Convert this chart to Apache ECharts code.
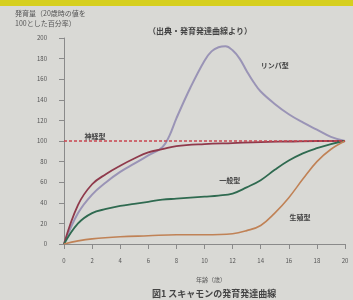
<!DOCTYPE html>
<html><head><meta charset="utf-8">
<script src="https://cdn.jsdelivr.net/npm/echarts@6/dist/echarts.min.js"></script>
<style>html,body{margin:0;padding:0;background:#d9d9d5;}#c{width:353px;height:300px;}</style>
</head><body><div id="c"></div>
<script>
const xTicks = [0,2,4,6,8,10,12,14,16,18,20];
const yTicks = [0,20,40,60,80,100,120,140,160,180,200];
const lymphAges = [0,1,2,3,4,5,6,7,7.5,8,9,10,10.5,11,11.5,12,12.5,13,13.5,14,15,16,17,18,19,20];
const lymphVals = [0,30,48,60,70,78,86,94,105,122,152,178,187,191,192,188,180,168,157,148,136,126,118,111,104,100];
const neuralAges = [0,1,2,3,4,5,6,7,8,10,12,14,16,18,20];
const neuralVals = [0,38,58,68,76,83,89,92,95,97,98,99,99.5,100,100];
const generalAges = [0,1,2,3,4,5,6,7,8,9,10,11,12,13,14,15,16,17,18,19,20];
const generalVals = [0,20,30,34,37,39,41,43,44,45,46,47,49,55,62,72,81,88,93,97,100];
const reproAges = [0,1,2,4,6,8,10,12,13,14,15,16,17,18,19,20];
const reproVals = [0,3,5,7,8,9,9,10,13,18,30,45,63,80,92,100];
const names = ['リンパ型','神経型','一般型','生殖型'];
const labelPos = [[15,173],[2.2,105],[11.8,62],[16.8,26]];
const refLine = 100;

const pair = (a,v)=>a.map((x,i)=>[x,v[i]]);
const font = '"Noto Sans CJK JP", sans-serif';
function ser(name, data, color, w, lp){
  return {type:'line', name, data, smooth:0.4, symbol:'none',
    lineStyle:{color, width:w}, z:3,
    markPoint:{symbol:'circle', symbolSize:0, data:[{coord:lp}],
      label:{show:true, formatter:name, color:'#444', fontSize:7, fontFamily:font, fontWeight:'bold'}}};
}
const chart = echarts.init(document.getElementById('c'));
chart.setOption({
  animation:false,
  backgroundColor:'#d9d9d5',
  grid:{left:64, right:8, top:38, bottom:56},
  graphic:[
    {type:'rect', shape:{x:0,y:0,width:353,height:6}, style:{fill:'#d6cf1e'}},
    {type:'text', left:15, top:10, style:{text:'発育量（20歳時の値を', fontSize:7, fill:'#555', fontFamily:font}},
    {type:'text', left:15, top:20, style:{text:'100とした百分率）', fontSize:7, fill:'#555', fontFamily:font}},
    {type:'text', left:148, top:27, style:{text:'（出典・発育発達曲線より）', fontSize:8, fill:'#444', fontFamily:font, fontWeight:'bold'}},
    {type:'text', left:196, top:277, style:{text:'年齢（歳）', fontSize:6, fill:'#555', fontFamily:font}},
    {type:'text', left:152, top:289, style:{text:'図1 スキャモンの発育発達曲線', fontSize:9, fill:'#444', fontFamily:font, fontWeight:'bold'}}
  ],
  xAxis:{type:'value', min:0, max:20, interval:2,
    axisLine:{lineStyle:{color:'#8a8a8a'}}, axisTick:{show:true, length:5, lineStyle:{color:'#8a8a8a'}},
    splitLine:{show:false},
    axisLabel:{margin:14, fontSize:6, color:'#555', fontFamily:font,
      formatter:v=>xTicks.includes(v)?String(v):''}},
  yAxis:{type:'value', min:0, max:200, interval:20,
    axisLine:{show:true, lineStyle:{color:'#8a8a8a'}}, axisTick:{show:true, length:5, lineStyle:{color:'#8a8a8a'}},
    splitLine:{show:false},
    axisLabel:{margin:17, fontSize:6, color:'#555', fontFamily:font,
      formatter:v=>yTicks.includes(v)?String(v):''}},
  series:[
    Object.assign(ser(names[0], pair(lymphAges,lymphVals), '#9a94b6', 2, labelPos[0]),
      {markLine:{silent:true, symbol:'none', data:[{yAxis:refLine}],
        lineStyle:{color:'#c9444f', type:[3,2], width:1.5}, label:{show:false}}}),
    ser(names[1], pair(neuralAges,neuralVals), '#8f3a4c', 1.8, labelPos[1]),
    ser(names[2], pair(generalAges,generalVals), '#2f6a50', 1.8, labelPos[2]),
    ser(names[3], pair(reproAges,reproVals), '#c08256', 1.6, labelPos[3])
  ]
});
</script></body></html>
